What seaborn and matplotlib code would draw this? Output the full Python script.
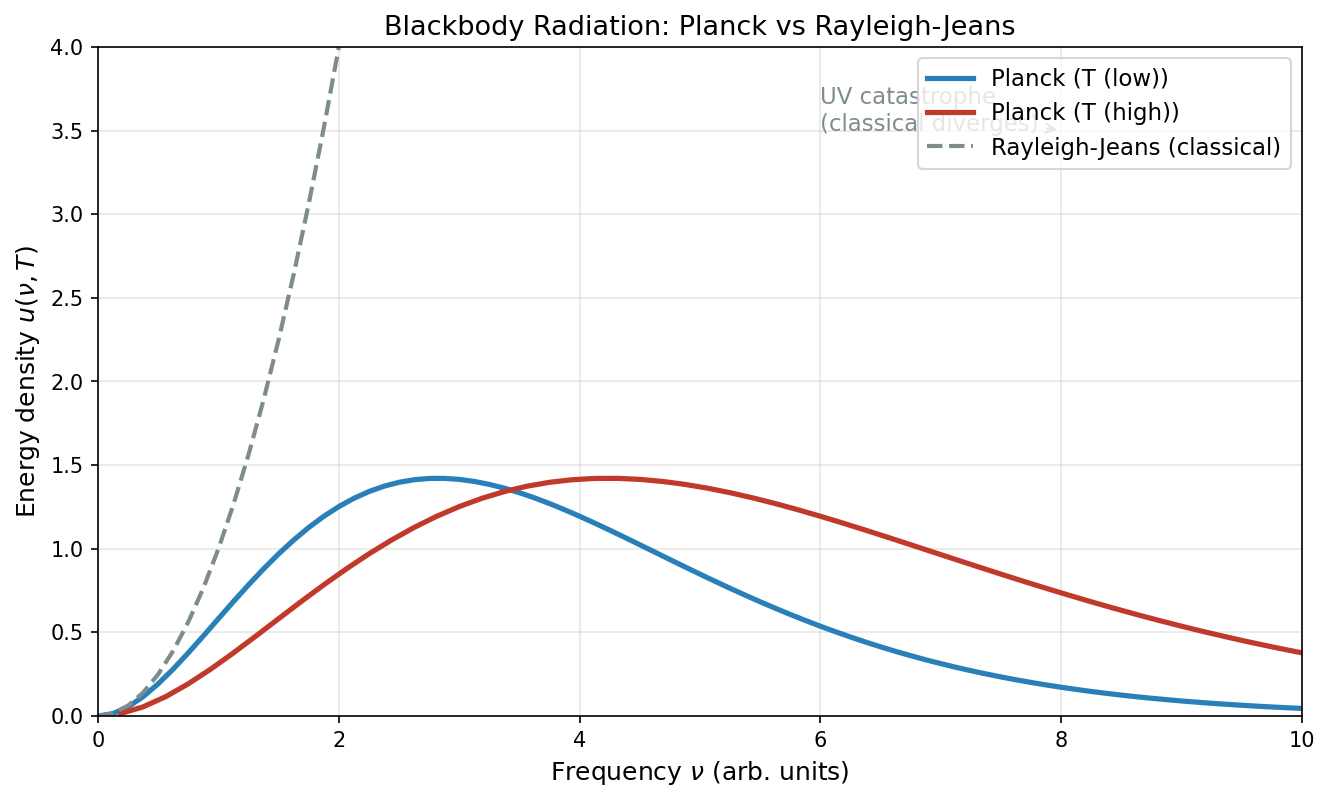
import numpy as np
import pandas as pd
import matplotlib
matplotlib.use("Agg")
import matplotlib.pyplot as plt
import seaborn as sns

# Values
# Planck, low temperature
nu_low = [0.0, 0.125, 0.25, 0.375, 0.5, 0.625, 0.75, 0.875, 1.0, 1.125, 1.25,
          1.375, 1.5, 1.625, 1.75, 1.875, 2.0, 2.125, 2.25, 2.375, 2.5, 2.625,
          2.75, 2.875, 3.0, 3.125, 3.25, 3.375, 3.5, 3.625, 3.75, 3.875, 4.0,
          4.125, 4.25, 4.375, 4.5, 4.625, 4.75, 4.875, 5.0, 5.125, 5.25, 5.375,
          5.5, 5.625, 5.75, 5.875, 6.0, 6.125, 6.25, 6.375, 6.5, 6.625, 6.75,
          6.875, 7.0, 7.125, 7.25, 7.375, 7.5, 7.625, 7.75, 7.875, 8.0, 8.125,
          8.25, 8.375, 8.5, 8.625, 8.75, 8.875, 9.0, 9.125, 9.25, 9.375, 9.5,
          9.625, 9.75, 9.875, 10.0]
u_low = [0.0, 0.0147, 0.0550, 0.1159, 0.1927, 0.2812, 0.3777, 0.4789, 0.5820,
         0.6845, 0.7843, 0.8797, 0.9694, 1.0521, 1.1272, 1.1940, 1.2521,
         1.3015, 1.3420, 1.3739, 1.3973, 1.4126, 1.4203, 1.4208, 1.4147,
         1.4025, 1.3847, 1.3621, 1.3350, 1.3042, 1.2701, 1.2332, 1.1941,
         1.1532, 1.1109, 1.0676, 1.0237, 0.9795, 0.9353, 0.8914, 0.8480,
         0.8052, 0.7633, 0.7225, 0.6827, 0.6442, 0.6070, 0.5712, 0.5367,
         0.5038, 0.4722, 0.4421, 0.4135, 0.3863, 0.3605, 0.3361, 0.3131,
         0.2913, 0.2708, 0.2516, 0.2335, 0.2165, 0.2006, 0.1857, 0.1718,
         0.1588, 0.1467, 0.1355, 0.1250, 0.1152, 0.1062, 0.0978, 0.0900,
         0.0828, 0.0761, 0.0699, 0.0642, 0.0589, 0.0540, 0.0495, 0.0454]

# Planck, high temperature
nu_high = [0.1875, 0.375, 0.5625, 0.75, 0.9375, 1.125, 1.3125, 1.5, 1.6875,
           1.875, 2.0625, 2.25, 2.4375, 2.625, 2.8125, 3.0, 3.1875, 3.375,
           3.5625, 3.75, 3.9375, 4.125, 4.3125, 4.5, 4.6875, 4.875, 5.0625,
           5.25, 5.4375, 5.625, 5.8125, 6.0, 6.1875, 6.375, 6.5625, 6.75,
           6.9375, 7.125, 7.3125, 7.5, 7.6875, 7.875, 8.0625, 8.25, 8.4375,
           8.625, 8.8125, 9.0, 9.1875, 9.375, 9.5625, 9.75, 9.9375, 10.0]
u_high = [0.0147, 0.0550, 0.1159, 0.1927, 0.2812, 0.3777, 0.4789, 0.5820,
          0.6845, 0.7843, 0.8797, 0.9694, 1.0521, 1.1272, 1.1940, 1.2521,
          1.3015, 1.3420, 1.3739, 1.3973, 1.4126, 1.4203, 1.4208, 1.4147,
          1.4025, 1.3847, 1.3621, 1.3350, 1.3042, 1.2701, 1.2332, 1.1941,
          1.1532, 1.1109, 1.0676, 1.0237, 0.9795, 0.9353, 0.8914, 0.8480,
          0.8052, 0.7633, 0.7225, 0.6827, 0.6442, 0.6070, 0.5712, 0.5367,
          0.5038, 0.4722, 0.4421, 0.4135, 0.3863, 0.3776]

# Rayleigh-Jeans (runs off the top of the plot)
nu_rj = [0.0, 0.125, 0.25, 0.375, 0.5, 0.625, 0.75, 0.875, 1.0, 1.125, 1.25,
         1.375, 1.5, 1.625, 1.75, 1.875, 2.0, 2.125, 2.25]
u_rj = [0.0, 0.0156, 0.0625, 0.1406, 0.25, 0.3906, 0.5625, 0.7656, 1.0,
        1.2656, 1.5625, 1.8906, 2.25, 2.6406, 3.0625, 3.5156, 4.0, 4.5156, 5.0625]

blue = "#2980b9"
red = "#c0392b"
gray = "#7f8c8d"

fig, ax = plt.subplots(figsize=(8.867, 5.347), dpi=150)
fig.subplots_adjust(left=0.0737, right=0.979, top=0.9414, bottom=0.1072)

sns.lineplot(x=nu_low, y=u_low, ax=ax, color=blue, lw=2.5,
             label="Planck (T (low))")
sns.lineplot(x=nu_high, y=u_high, ax=ax, color=red, lw=2.5,
             label="Planck (T (high))")
sns.lineplot(x=nu_rj, y=u_rj, ax=ax, color=gray, lw=2, linestyle="--",
             label="Rayleigh-Jeans (classical)")

ax.annotate("UV catastrophe\n(classical diverges)", xy=(8, 3.5), xytext=(6, 3.5),
            fontsize=11, color=gray, arrowprops=dict(arrowstyle="->", color=gray))

ax.set_xlim(0, 10)
ax.set_ylim(0, 4)
ax.grid(True, alpha=0.3)
ax.set_xlabel(r"Frequency $\nu$ (arb. units)", fontsize=12)
ax.set_ylabel(r"Energy density $u(\nu, T)$", fontsize=12)
ax.set_title("Blackbody Radiation: Planck vs Rayleigh-Jeans", fontsize=13)
ax.legend(loc="upper right", fontsize=11)

plt.savefig("out.png", dpi=150)
